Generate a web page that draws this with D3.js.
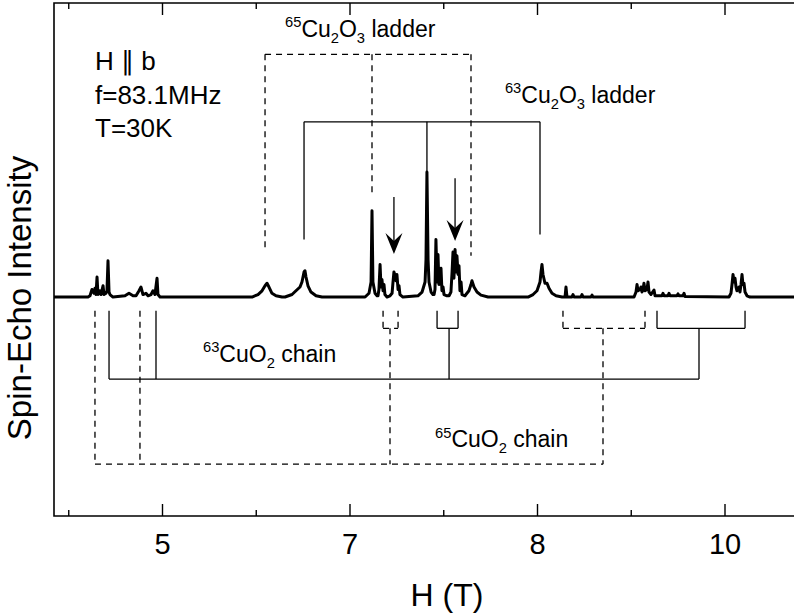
<!DOCTYPE html>
<html>
<head>
<meta charset="utf-8">
<script src="https://cdn.jsdelivr.net/npm/d3@7"></script>
<style>
  body { margin: 0; background: #fff; }
  svg { display: block; }
  text { font-family: "Liberation Sans", Arial, Helvetica, sans-serif; fill: #000; }
</style>
</head>
<body>
<div id="chart"></div>
<script>
// tick labels of the field axis (as printed) and minor ticks halfway between
const xTicks = [5, 7, 8, 10];
const xMinor = [4, 6, 7.5, 9];

// spin-echo spectrum: [H, intensity], tallest peak = 1
const spectrum = [
  [3.848,0],[4.211,0],[4.232,0.01],[4.253,0.06],[4.275,0.03],[4.285,0.07],[4.296,0.02],[4.307,0.16],[4.317,0.02],
  [4.339,0.05],[4.349,0.02],[4.371,0.09],[4.381,0.02],[4.403,0.03],[4.413,0.05],[4.424,0.29],[4.435,0.04],[4.445,0.02],[4.477,0],
  [4.605,0.01],[4.648,0.03],[4.691,0.01],[4.723,0.01],[4.755,0.05],[4.776,0.08],[4.797,0.02],[4.829,0.03],[4.851,0.01],
  [4.883,0.02],[4.904,0.05],[4.925,0.02],[4.947,0.15],[4.957,0.02],[4.979,0],
  [5.960,0],[6.024,0.02],[6.067,0.05],[6.099,0.09],[6.120,0.11],[6.141,0.08],[6.173,0.03],[6.216,0.01],[6.280,0],
  [6.312,0],[6.387,0.02],[6.429,0.05],[6.472,0.08],[6.493,0.12],[6.515,0.2],[6.525,0.21],[6.536,0.16],[6.557,0.09],[6.589,0.04],[6.643,0.01],[6.707,0],
  [7.083,0],[7.104,0.03],[7.115,0.12],[7.120,0.69],[7.125,0.12],[7.136,0.03],[7.147,0.01],
  [7.152,0.01],[7.157,0.06],[7.163,0.26],[7.168,0.08],[7.173,0.14],[7.179,0.05],[7.184,0.1],[7.189,0.02],[7.200,0],
  [7.216,0.01],[7.227,0.03],[7.232,0.12],[7.237,0.2],[7.243,0.17],[7.248,0.13],[7.253,0.18],[7.259,0.06],[7.264,0.09],[7.269,0.02],[7.285,0],
  [7.365,0.01],[7.387,0.04],[7.403,0.12],[7.408,0.3],[7.413,1.0],[7.419,0.3],[7.424,0.12],[7.435,0.04],[7.445,0.02],
  [7.451,0.02],[7.456,0.06],[7.461,0.46],[7.467,0.12],[7.472,0.34],[7.477,0.1],[7.483,0.2],[7.488,0.23],[7.493,0.05],[7.499,0.08],[7.504,0.02],[7.520,0.01],
  [7.531,0.01],[7.541,0.04],[7.547,0.2],[7.552,0.36],[7.557,0.15],[7.563,0.38],[7.568,0.2],[7.573,0.33],[7.579,0.18],[7.584,0.25],[7.589,0.05],[7.595,0.12],[7.600,0.02],[7.616,0.01],
  [7.621,0.02],[7.637,0.05],[7.648,0.1],[7.653,0.13],[7.664,0.08],[7.680,0.04],[7.701,0.015],[7.739,0],
  [7.952,0],[7.979,0.02],[8.000,0.05],[8.032,0.12],[8.043,0.2],[8.053,0.26],[8.064,0.18],[8.085,0.11],[8.107,0.11],[8.128,0.07],[8.160,0.03],[8.203,0.01],[8.267,0],
  [8.299,0],[8.309,0.08],[8.320,0],[8.373,0],[8.384,0.02],[8.395,0],[8.469,0],[8.480,0.02],[8.491,0],[8.576,0],[8.587,0.015],[8.597,0],
  [9.035,0],[9.056,0.04],[9.067,0.1],[9.077,0.05],[9.099,0.06],[9.109,0.08],[9.120,0.04],[9.131,0.06],[9.141,0.11],[9.152,0.05],
  [9.173,0.06],[9.184,0.12],[9.195,0.04],[9.216,0.02],[9.248,0.056],[9.259,0.01],
  [9.333,0.01],[9.344,0.03],[9.355,0.01],[9.397,0.01],[9.408,0.03],[9.419,0.01],[9.493,0.01],[9.504,0.025],[9.515,0.01],[9.557,0.01],[9.568,0.03],[9.579,0.005],
  [10.048,0],[10.069,0.03],[10.080,0.1],[10.091,0.18],[10.101,0.12],[10.112,0.15],[10.123,0.08],[10.133,0.05],[10.155,0.08],[10.165,0.04],
  [10.176,0.1],[10.187,0.18],[10.197,0.1],[10.208,0.11],[10.219,0.04],[10.240,0.01],[10.272,0],
  [10.805,0]
];

// ladder assignments (above the spectrum)
const ladder65X = [6.099, 7.120, 7.648];
const ladder65Ends = [0.38, 0.83, 0.33];
const ladder65Level = 1.94;
const ladder63X = [6.515, 7.413, 8.032];
const ladder63Ends = [0.46, 1.0, 0.50];
const ladder63Level = 1.40;

// chain assignments (below the spectrum)
const chainStart = -0.11;
const bracketLevel = -0.25;
const chain63Outer = [4.435, 4.936];
const chain63Groups = [[7.467, 7.579], [9.280, 10.219]];
const chain63Stems = [7.531, 9.728];
const chain63Level = -0.656;
const chain65Outer = [4.285, 4.765];
const chain65Groups = [[7.179, 7.259], [8.277, 9.152]];
const chain65Stems = [7.216, 8.704];
const chain65Level = -1.336;

// arrows marking the extra lines
const arrowX = [7.237, 7.563];
const arrowFrom = [0.80, 0.95];
const arrowTo = [0.344, 0.448];

const conditions = ["H \u2225 b", "f=83.1MHz", "T=30K"];

// ---- layout ----
const W = 794, Hh = 616;
const plot = { left: 54, top: 3, right: 812, bottom: 516 };
const major0 = 162, majorStep = 187.5;

const svg = d3.select("#chart").append("svg")
  .attr("width", W).attr("height", Hh);

const x = d3.scaleLinear()
  .domain(xTicks)
  .range(xTicks.map((d, i) => major0 + i * majorStep));

const y = d3.scaleLinear()
  .domain([-1.75, 2.35])
  .range([plot.bottom, plot.top]);

// frame
svg.append("path")
  .attr("d", `M${plot.right},${plot.top}H${plot.left}V${plot.bottom}H${plot.right}`)
  .attr("fill", "none").attr("stroke", "#000").attr("stroke-width", 1.6);

// axes: inward ticks top and bottom
function ticks(gen, yPos, vals, size, labels) {
  const a = gen(x).tickValues(vals).tickSizeInner(-size).tickSizeOuter(0)
    .tickPadding(17).tickFormat(labels ? d3.format("d") : "");
  const g = svg.append("g").attr("transform", `translate(0,${yPos})`).call(a);
  g.select(".domain").remove();
  g.selectAll("line").attr("stroke-width", 1.4);
  g.attr("font-size", null).attr("font-family", null);
  g.selectAll("text").style("font-size", "29px");
  return g;
}
ticks(d3.axisBottom, plot.bottom, xTicks, 12, true);
ticks(d3.axisBottom, plot.bottom, xMinor, 6, false);
ticks(d3.axisTop, plot.top, xTicks, 12, false);
ticks(d3.axisTop, plot.top, xMinor, 6, false);

// axis titles
svg.append("text")
  .attr("x", 447).attr("y", 606)
  .attr("text-anchor", "middle").style("font-size", "32px")
  .text("H (T)");
svg.append("text")
  .attr("transform", "translate(31,298) rotate(-90)")
  .attr("text-anchor", "middle").style("font-size", "33px")
  .text("Spin-Echo Intensity");

// spectrum
const line = d3.line().x(d => x(d[0])).y(d => y(d[1]));
svg.append("path")
  .datum(spectrum)
  .attr("d", line)
  .attr("fill", "none").attr("stroke", "#000")
  .attr("stroke-width", 3).attr("stroke-linejoin", "round");

// assignment lines
const ann = svg.append("g").attr("fill", "none").attr("stroke", "#000").attr("stroke-width", 1.3);
function seg(x1, y1, x2, y2, dashed) {
  ann.append("line")
    .attr("x1", x(x1)).attr("y1", y(y1)).attr("x2", x(x2)).attr("y2", y(y2))
    .attr("stroke-dasharray", dashed ? "6,5" : null);
}

function ladder(xs, ends, level, dashed) {
  seg(xs[0], level, xs[xs.length - 1], level, dashed);
  xs.forEach((h, i) => seg(h, level, h, ends[i], dashed));
}
ladder(ladder65X, ladder65Ends, ladder65Level, true);
ladder(ladder63X, ladder63Ends, ladder63Level, false);

function chain(outer, groups, stems, level, dashed) {
  outer.forEach(h => seg(h, chainStart, h, level, dashed));
  groups.forEach((gr, i) => {
    seg(gr[0], chainStart, gr[0], bracketLevel, dashed);
    seg(gr[1], chainStart, gr[1], bracketLevel, dashed);
    seg(gr[0], bracketLevel, gr[1], bracketLevel, dashed);
    seg(stems[i], bracketLevel, stems[i], level, dashed);
  });
  seg(outer[0], level, stems[stems.length - 1], level, dashed);
}
chain(chain63Outer, chain63Groups, chain63Stems, chain63Level, false);
chain(chain65Outer, chain65Groups, chain65Stems, chain65Level, true);

// arrows
arrowX.forEach((h, i) => {
  const ax = x(h), y0 = y(arrowFrom[i]), y1 = y(arrowTo[i]);
  svg.append("line").attr("x1", ax).attr("x2", ax).attr("y1", y0).attr("y2", y1 - 10)
    .attr("stroke", "#000").attr("stroke-width", 1.3);
  svg.append("path")
    .attr("d", `M${ax},${y1}L${ax - 8.5},${y1 - 21}L${ax},${y1 - 13}L${ax + 8.5},${y1 - 21}Z`)
    .attr("fill", "#000");
});

// labels with sub/superscripts
function rich(parts, px, py, size) {
  const t = svg.append("text").attr("x", px).attr("y", py).style("font-size", size + "px");
  let cur = 0;
  parts.forEach(p => {
    const shift = p[1] === "sup" ? -0.42 * size : p[1] === "sub" ? 0.26 * size : 0;
    t.append("tspan").attr("dy", shift - cur)
      .style("font-size", (p[1] ? size * 0.64 : size) + "px").text(p[0]);
    cur = shift;
  });
}
rich([["65", "sup"], ["Cu"], ["2", "sub"], ["O"], ["3", "sub"], [" ladder"]], x(6.312), y(2.08), 23);
rich([["63", "sup"], ["Cu"], ["2", "sub"], ["O"], ["3", "sub"], [" ladder"]], x(7.829), y(1.552), 23);
rich([["63", "sup"], ["CuO"], ["2", "sub"], [" chain"]], x(5.437), y(-0.52), 23);
rich([["65", "sup"], ["CuO"], ["2", "sub"], [" chain"]], x(7.456), y(-1.2), 23);

// measurement conditions
svg.append("g").selectAll("text").data(conditions).join("text")
  .attr("x", plot.left + 41)
  .attr("y", (d, i) => 70 + i * 33.5)
  .style("font-size", "26px")
  .text(d => d);
</script>
</body>
</html>
